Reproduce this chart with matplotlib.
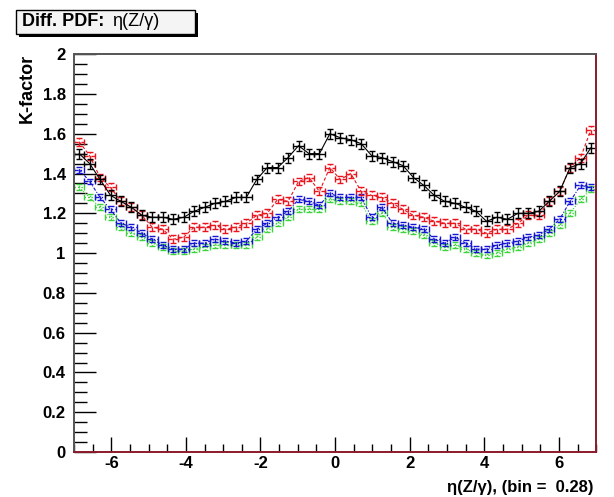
import matplotlib.pyplot as plt
import numpy as np
from matplotlib.patches import Rectangle
from matplotlib.ticker import MultipleLocator

plt.rcParams["font.family"] = ["Liberation Sans", "DejaVu Sans"]
plt.rcParams["axes.unicode_minus"] = False

# 50 bins of width 0.28 over [-7, 7]
bin_width = 0.28
edges = np.linspace(-7, 7, 51)
centers = 0.5 * (edges[:-1] + edges[1:])

k_black = [1.50, 1.45, 1.37, 1.29, 1.26, 1.23, 1.19, 1.18, 1.18, 1.17,
           1.18, 1.21, 1.23, 1.25, 1.26, 1.28, 1.28, 1.37, 1.43, 1.43,
           1.48, 1.54, 1.50, 1.50, 1.60, 1.58, 1.57, 1.55, 1.49, 1.48,
           1.46, 1.44, 1.38, 1.34, 1.29, 1.26, 1.25, 1.23, 1.21, 1.16,
           1.18, 1.17, 1.20, 1.20, 1.21, 1.26, 1.31, 1.43, 1.45, 1.53]
k_red = [1.56, 1.49, 1.38, 1.33, 1.26, 1.23, 1.19, 1.13, 1.12, 1.07,
         1.08, 1.13, 1.13, 1.14, 1.12, 1.13, 1.15, 1.19, 1.20, 1.27,
         1.26, 1.36, 1.38, 1.31, 1.43, 1.37, 1.40, 1.31, 1.29, 1.28,
         1.25, 1.22, 1.19, 1.18, 1.16, 1.15, 1.15, 1.12, 1.12, 1.10,
         1.12, 1.12, 1.15, 1.19, 1.19, 1.26, 1.31, 1.43, 1.48, 1.62]
k_blue = [1.42, 1.36, 1.28, 1.22, 1.15, 1.13, 1.10, 1.07, 1.04, 1.02,
          1.02, 1.05, 1.05, 1.07, 1.06, 1.05, 1.06, 1.12, 1.15, 1.18,
          1.21, 1.27, 1.26, 1.24, 1.30, 1.28, 1.28, 1.28, 1.18, 1.23,
          1.15, 1.14, 1.13, 1.12, 1.07, 1.05, 1.08, 1.05, 1.02, 1.02,
          1.04, 1.05, 1.06, 1.08, 1.09, 1.12, 1.17, 1.26, 1.34, 1.33]
k_green = [1.33, 1.28, 1.23, 1.18, 1.13, 1.10, 1.08, 1.05, 1.03, 1.01,
           1.01, 1.02, 1.03, 1.04, 1.04, 1.04, 1.04, 1.08, 1.12, 1.15,
           1.18, 1.22, 1.22, 1.22, 1.27, 1.26, 1.26, 1.25, 1.16, 1.20,
           1.13, 1.12, 1.11, 1.09, 1.05, 1.03, 1.04, 1.02, 1.00, 0.99,
           1.00, 1.02, 1.03, 1.05, 1.07, 1.10, 1.14, 1.20, 1.27, 1.32]

series = [
    (k_black, "black", "-", 0.025),
    (k_red, "#e8141e", (0, (3, 2)), 0.02),
    (k_blue, "#1414d2", (0, (3, 1.5, 1, 1.5)), 0.015),
    (k_green, "#3ed23e", (0, (1, 1.5)), 0.015),
]

fig = plt.figure(figsize=(6.14, 4.97), dpi=100)
ax = fig.add_axes([0.1205, 0.0905, 0.8505, 0.8005])

for vals, col, ls, err in reversed(series):
    ax.plot(centers, vals, color=col, lw=0.8, ls=ls)
    eb = ax.errorbar(centers, vals, xerr=bin_width / 2, yerr=err, fmt="none",
                     ecolor=col, elinewidth=1.0, capsize=2.5, capthick=1.0)
    for lc in eb[2]:
        lc.set_linestyle(ls)

ax.set_xlim(-7, 7)
ax.set_ylim(0, 2)
ax.xaxis.set_major_locator(MultipleLocator(2))
ax.xaxis.set_minor_locator(MultipleLocator(0.5))
ax.yaxis.set_major_locator(MultipleLocator(0.2))
ax.yaxis.set_minor_locator(MultipleLocator(0.05))
ax.tick_params(which="both", direction="in", top=False, right=False,
               labelsize=12, width=1.0, color="black")
ax.tick_params(axis="y", which="major", length=16, pad=6)
ax.tick_params(axis="y", which="minor", length=9)
ax.tick_params(axis="x", which="major", length=11, pad=3)
ax.tick_params(axis="x", which="minor", length=6)
for lbl in ax.get_xticklabels() + ax.get_yticklabels():
    lbl.set_fontweight("bold")
ax.yaxis.set_major_formatter(plt.FuncFormatter(lambda v, p: f"{v:g}"))

ax.spines["left"].set_color("#555555")
ax.spines["top"].set_color("#555555")
ax.spines["bottom"].set_color("#8b1a2b")
ax.spines["right"].set_color("#8b1a2b")
for s in ax.spines.values():
    s.set_linewidth(1.4)

ax.set_ylabel("K-factor", fontsize=13, fontweight="bold")
ax.yaxis.set_label_coords(-0.073, 1.0)
ax.yaxis.label.set_va("bottom")
ax.yaxis.label.set_ha("right")
fig.text(0.966, 0.02, "\u03b7(Z/\u03b3), (bin =  0.28)", ha="right",
         va="center", fontsize=12, fontweight="bold")

# title box with shadow
fig.add_artist(Rectangle((19 / 614, 1 - 37 / 497), 179 / 614, 24 / 497,
                         transform=fig.transFigure, facecolor="black",
                         edgecolor="none"))
fig.add_artist(Rectangle((16 / 614, 1 - 34 / 497), 179 / 614, 24 / 497,
                         transform=fig.transFigure, facecolor="#f4f4f4",
                         edgecolor="black", lw=1.0))
fig.text(22 / 614, 1 - 22 / 497, "Diff. PDF:", fontsize=13,
         fontweight="bold", va="center", ha="left")
fig.text(112 / 614, 1 - 22 / 497, "\u03b7(Z/\u03b3)", fontsize=13,
         va="center", ha="left")

fig.savefig("out.png", dpi=100)
